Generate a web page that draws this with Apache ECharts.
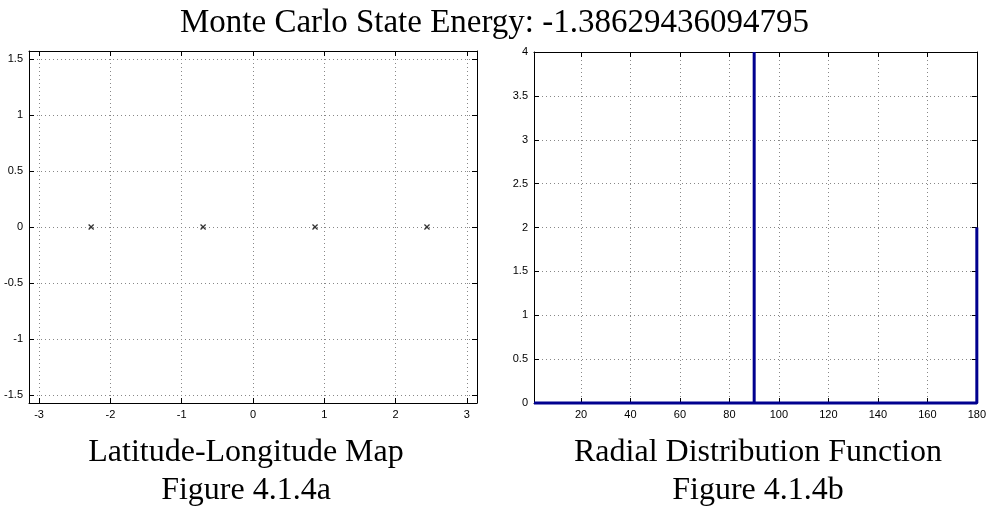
<!DOCTYPE html>
<html>
<head>
<meta charset="utf-8">
<script src="https://cdn.jsdelivr.net/npm/echarts@6/dist/echarts.min.js"></script>
<style>
  html, body { margin: 0; padding: 0; background: #fff; }
  #chart { width: 989px; height: 506px; }
</style>
</head>
<body>
<div id="chart"></div>
<script>
// particle positions on the lat-long map
const particleLon = [-2.27, -0.70, 0.87, 2.44]
const particleLat = [0, 0, 0, 0]

// radial distribution (angle, count)
const rdfAngle = [1, 90, 90, 90, 180, 180]
const rdfCount = [0, 0, 4, 0, 0, 2]

// tick labels
const mapLonTicks = [-3, -2, -1, 0, 1, 2, 3]
const mapLatTicks = [-1.5, -1, -0.5, 0, 0.5, 1, 1.5]
const rdfAngleTicks = [20, 40, 60, 80, 100, 120, 140, 160, 180]

const chart = echarts.init(document.getElementById('chart'))

const serif = '"Liberation Serif", "DejaVu Serif", serif'
const sans = '"Liberation Sans", Arial, sans-serif'

const gridLine = { show: true, lineStyle: { color: '#888', type: [1, 3], width: 1 } }
const tickStyle = { show: true, inside: true, length: 5, lineStyle: { color: '#000' } }
const labelStyle = { color: '#000', fontSize: 11, fontFamily: sans }

// main axis + mirrored tick-only axis for the box look
function valueAxis (gridIndex, position, min, max, ticks, extra) {
  const base = {
    type: 'value',
    gridIndex,
    position,
    min,
    max,
    axisLine: { show: true, onZero: false, lineStyle: { color: '#000', width: 1 } },
    axisTick: Object.assign({}, tickStyle, ticks ? { customValues: ticks } : {}),
    axisLabel: Object.assign({}, labelStyle, ticks ? { customValues: ticks } : {}, { margin: 6 }),
    splitLine: gridLine
  }
  return Object.assign(base, extra || {})
}

function mirrorAxis (gridIndex, position, min, max, ticks, extra) {
  return Object.assign({
    type: 'value',
    gridIndex,
    position,
    min,
    max,
    axisLine: { show: true, onZero: false, lineStyle: { color: '#000', width: 1 } },
    axisTick: Object.assign({}, tickStyle, ticks ? { customValues: ticks } : {}),
    axisLabel: { show: false },
    splitLine: { show: false }
  }, extra || {})
}

const titleFont = { fontFamily: serif, fontSize: 32, fontWeight: 'normal', color: '#000', lineHeight: 38, align: 'center' }

const option = {
  animation: false,
  backgroundColor: '#fff',
  title: [
    { text: 'Monte Carlo State Energy: -1.38629436094795', left: 'center', top: 2,
      textStyle: { fontFamily: serif, fontSize: 33, fontWeight: 'normal', color: '#000' } },
    { text: 'Latitude-Longitude Map\nFigure 4.1.4a', left: 241, top: 429, textAlign: 'center', textStyle: titleFont },
    { text: 'Radial Distribution Function\nFigure 4.1.4b', left: 753, top: 429, textAlign: 'center', textStyle: titleFont }
  ],
  grid: [
    { left: 29, top: 51, width: 448, height: 352 },
    { left: 534, top: 52, width: 447, height: 351 }
  ],
  xAxis: [
    valueAxis(0, 'bottom', -Math.PI, Math.PI, mapLonTicks),
    mirrorAxis(0, 'top', -Math.PI, Math.PI, mapLonTicks),
    valueAxis(1, 'bottom', 1, 180, rdfAngleTicks),
    mirrorAxis(1, 'top', 1, 180, rdfAngleTicks)
  ],
  yAxis: [
    valueAxis(0, 'left', -Math.PI / 2, Math.PI / 2, mapLatTicks),
    mirrorAxis(0, 'right', -Math.PI / 2, Math.PI / 2, mapLatTicks),
    valueAxis(1, 'left', 0, 4, null, { interval: 0.5 }),
    mirrorAxis(1, 'right', 0, 4, null, { interval: 0.5 })
  ],
  series: [
    {
      type: 'scatter',
      xAxisIndex: 0,
      yAxisIndex: 0,
      symbol: 'path://M0,1.5L1.5,0L5,3.5L8.5,0L10,1.5L6.5,5L10,8.5L8.5,10L5,6.5L1.5,10L0,8.5L3.5,5Z',
      symbolSize: 6,
      itemStyle: { color: '#000' },
      data: particleLon.map((lon, i) => [lon, particleLat[i]])
    },
    {
      type: 'line',
      xAxisIndex: 2,
      yAxisIndex: 2,
      showSymbol: false,
      lineStyle: { color: '#00008f', width: 3 },
      clip: false,
      data: rdfAngle.map((a, i) => [a, rdfCount[i]])
    }
  ]
}

chart.setOption(option)
</script>
</body>
</html>
